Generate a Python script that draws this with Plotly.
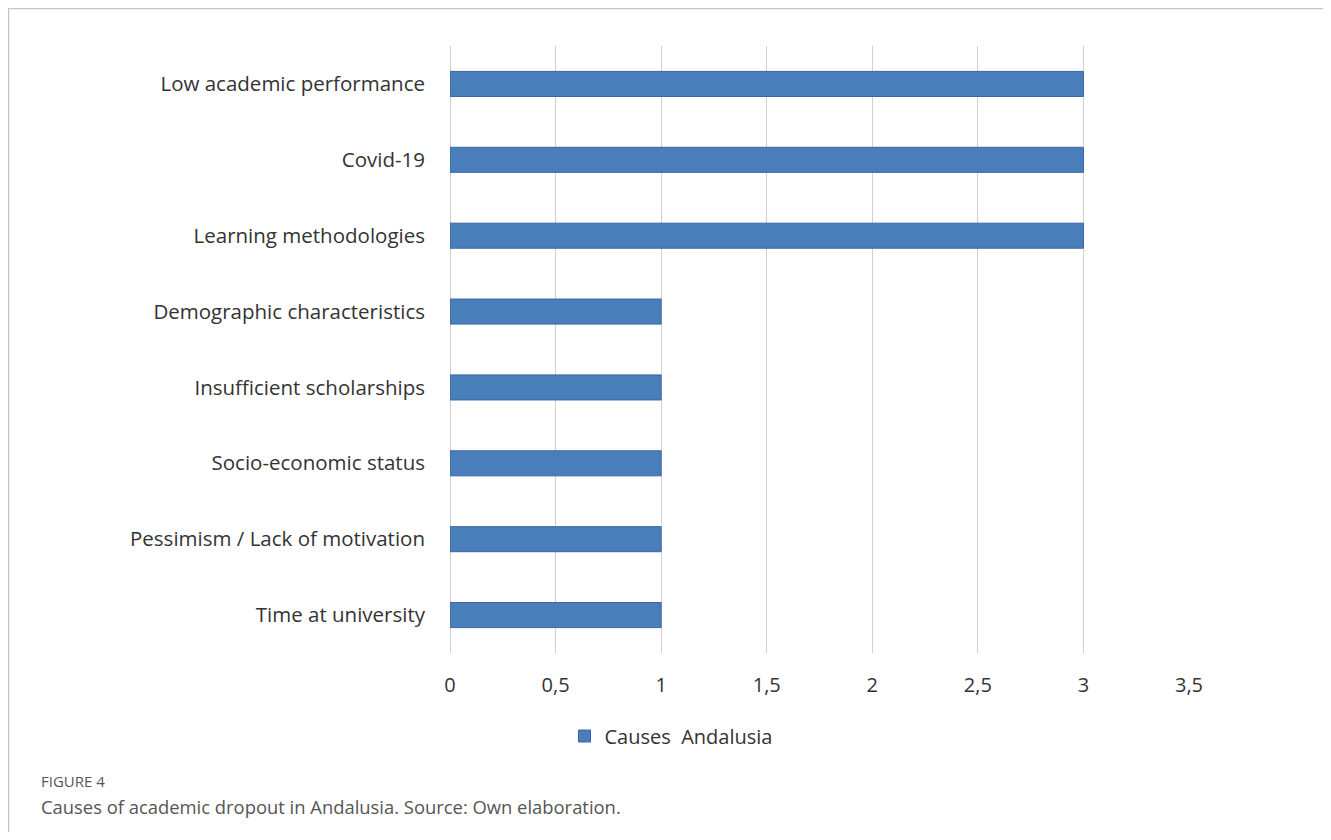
import plotly.graph_objects as go

categories = ["Low academic performance", "Covid-19", "Learning methodologies",
              "Demographic characteristics", "Insufficient scholarships",
              "Socio-economic status", "Pessimism / Lack of motivation",
              "Time at university"]
values = [3, 3, 3, 1, 1, 1, 1, 1]
tick_vals = [0, 0.5, 1, 1.5, 2, 2.5, 3, 3.5]
tick_text = ["0", "0,5", "1", "1,5", "2", "2,5", "3", "3,5"]
series_name = "Causes  Andalusia"

OFF = 8  # page body margin
W, H = 1315, 824
# plot area in screen pixels
SX0, SX1, SY0, SY1 = 450, 1189, 46, 653
L = SX0 - OFF
T = SY0 - OFF
R = W - (SX1 - OFF)
B = H - (SY1 - OFF)
pw, ph = W - L - R, H - T - B

def px_x(x):  # screen x -> paper
    return (x - OFF - L) / pw

def px_y(y):  # screen y -> paper
    return (H - B - (y - OFF)) / ph

fig = go.Figure()
fig.add_trace(go.Bar(
    y=categories, x=values, orientation="h", name=series_name,
    marker=dict(color="#4a7ebb", line=dict(color="#3866a3", width=1)),
    width=0.33, showlegend=True,
))

fig.update_layout(
    width=W, height=H,
    margin=dict(l=L, r=R, t=T, b=B),
    paper_bgcolor="white", plot_bgcolor="white",
    font=dict(family="Open Sans, Lato, sans-serif", color="#333333", size=20),
    xaxis=dict(range=[0, 3.5], tickvals=tick_vals, ticktext=tick_text,
               showgrid=True, gridcolor="#d0d0d0", gridwidth=1,
               zeroline=True, zerolinecolor="#d0d0d0", zerolinewidth=1,
               showline=False, ticks="", ticklabelstandoff=18,
               tickfont=dict(size=20, color="#333333"), fixedrange=True),
    yaxis=dict(categoryorder="array", categoryarray=categories[::-1],
               showgrid=False, showline=False, ticks="", ticklabelstandoff=24,
               tickfont=dict(size=20.5, color="#333333"), fixedrange=True),
    legend=dict(orientation="h", x=px_x(671), xanchor="center",
                y=px_y(736), yanchor="middle", itemwidth=30,
                font=dict(size=20, color="#333333"),
                bgcolor="rgba(0,0,0,0)"),
    shapes=[dict(type="rect", xref="paper", yref="paper",
                 x0=px_x(8.5), x1=px_x(1340), y0=px_y(860), y1=px_y(8.5),
                 line=dict(color="#c4c4c4", width=1.5), fillcolor="rgba(0,0,0,0)",
                 layer="below")],
    annotations=[
        dict(text="FIGURE 4", xref="paper", yref="paper",
             x=px_x(39), y=px_y(781), xanchor="left", yanchor="middle",
             showarrow=False, font=dict(size=15, color="#555555",
                                        family="Open Sans, sans-serif")),
        dict(text="Causes of academic dropout in Andalusia. Source: Own elaboration.",
             xref="paper", yref="paper",
             x=px_x(39), y=px_y(806), xanchor="left", yanchor="middle",
             showarrow=False, font=dict(size=18.4, color="#555555",
                                        family="Open Sans, sans-serif")),
    ],
    bargap=0.67,
)

fig.write_html("out.html")
